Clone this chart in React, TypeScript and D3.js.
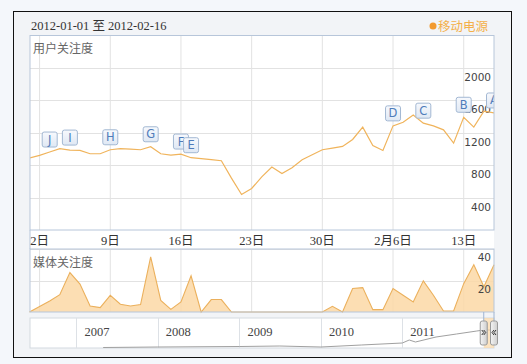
import * as d3 from "d3";

const startDate = "2012-01-01";
const endDate = "2012-02-16";

// 用户关注度, one value per day from 1 Jan to 16 Feb
const userAttention = [
  888, 921, 962, 1003, 986, 982, 941, 941, 990, 1003, 998, 990, 1027, 941, 925, 937,
  892, 880, 868, 855, 640, 438, 512, 655, 777, 696, 769, 868, 929, 990, 1011, 1031,
  1117, 1269, 1043, 982, 1285, 1330, 1420, 1318, 1285, 1236, 1072, 1391, 1269, 1465, 1444,
];

// 媒体关注度
const mediaAttention = [
  0, 3.5, 7, 11, 25, 17.7, 3.8, 2.8, 10.6, 4.9, 3.8, 4.7, 35, 7.4, 1.7, 6.4,
  23, 0, 7.9, 7.9, 0, 0, 0, 0, 0, 0, 0, 0, 0, 0, 3.6, 0,
  14.9, 15.5, 1.5, 1.5, 14.9, 10.6, 6.4, 19.8, 10.6, 0.6, 0.6, 18, 30, 16, 30,
];

const tickDates = ["2012-01-02", "2012-01-09", "2012-01-16", "2012-01-23", "2012-01-30", "2012-02-06", "2012-02-13"];
const tickLabels = ["2日", "9日", "16日", "23日", "30日", "2月6日", "13日"];
const userTicks = [400, 800, 1200, 1600, 2000];
const mediaTicks = [20, 40];

const flagLetters = ["J", "I", "H", "G", "F", "E", "D", "C", "B", "A"];
const flagDates = ["2012-01-03", "2012-01-05", "2012-01-09", "2012-01-13", "2012-01-16", "2012-01-17", "2012-02-06", "2012-02-09", "2012-02-13", "2012-02-16"];

// navigator (whole history)
const navStart = "2006-06-07";
const navDates = ["2007-05-01", "2008-01-01", "2009-01-01", "2009-07-01", "2010-01-01", "2010-07-01", "2011-01-01", "2011-02-01", "2011-03-01", "2011-06-01", "2011-09-01", "2011-12-01", "2012-01-01", "2012-02-16"];
const navValues = [40, 80, 120, 160, 80, 240, 400, 640, 480, 880, 1120, 1360, 1440, 1440];
const navYears = ["2007-01-01", "2008-01-01", "2009-01-01", "2010-01-01", "2011-01-01"];
const navYearLabels = ["2007", "2008", "2009", "2010", "2011"];

const parse = d3.timeParse("%Y-%m-%d");
const serif = "'Liberation Serif', 'Noto Sans CJK SC', serif";
const cjk = "'Noto Sans CJK SC', 'DejaVu Sans', sans-serif";

export default function App() {
  const W = 527, H = 364;
  const left = 30, right = 494;
  const t0 = parse(startDate)!, t1 = parse(endDate)!;
  const days = userAttention.map((_, i) => d3.timeDay.offset(t0, i));

  const x = d3.scaleTime().domain([t0, t1]).range([29.5, 494]);
  const yUser = d3.scaleLinear().domain([0, 2400]).range([230, 35.5]);
  const yMedia = d3.scaleLinear().domain([0, 40]).range([312, 249]);
  const xNav = d3.scaleTime().domain([parse(navStart)!, t1]).range([left, right]);
  const yNav = d3.scaleLinear().domain([0, 2400]).range([348, 318]);

  const userLine = d3.line<number>().x((_, i) => x(days[i])).y((v) => yUser(v));
  const mediaArea = d3.area<number>().x((_, i) => x(days[i])).y0(yMedia(0)).y1((v) => yMedia(v));
  const mediaLine = d3.line<number>().x((_, i) => x(days[i])).y((v) => yMedia(v));
  const navLine = d3.line<number>().x((_, i) => xNav(parse(navDates[i])!)).y((v) => yNav(v));

  const selL = xNav(t0), selR = xNav(t1);
  const grid = "#e2e2e2";
  const border = "#b7c6da";

  return (
    <svg width={W} height={H} style={{ position: "absolute", left: 0, top: 0 }}>
      <defs>
        <clipPath id="plotClip">
          <rect x={left} y={35.5} width={right - left} height={230 - 35.5} />
        </clipPath>
        <linearGradient id="flagGrad" x1="0" y1="0" x2="0" y2="1">
          <stop offset="0" stopColor="#f7f9fd" />
          <stop offset="1" stopColor="#dfe8f4" />
        </linearGradient>
        <linearGradient id="handleGrad" x1="0" y1="0" x2="1" y2="0">
          <stop offset="0" stopColor="#f4f4f4" />
          <stop offset="1" stopColor="#cfcfcf" />
        </linearGradient>
      </defs>
      <rect x={0} y={0} width={W} height={H} fill="#f4f7fb" />
      <rect x={13.5} y={11.5} width={498} height={346} fill="#f2f4f7" stroke="#111" />

      {/* header */}
      <text x={31} y={30} fontFamily={serif} fontSize={12.5} fill="#333">2012-01-01 至 2012-02-16</text>
      <circle cx={433} cy={26} r={3.5} fill="#f29a2e" />
      <text x={438} y={31} fontFamily={cjk} fontSize={12.5} fill="#f4b04a">移动电源</text>

      {/* white panel */}
      <rect x={left} y={35.5} width={right - left} height={312 - 35.5} fill="#fff" />

      {/* grid */}
      {tickDates.map((d) => (
        <g key={d}>
          <line x1={x(parse(d)!)} x2={x(parse(d)!)} y1={35.5} y2={230} stroke={grid} />
          <line x1={x(parse(d)!)} x2={x(parse(d)!)} y1={249} y2={312} stroke={grid} />
        </g>
      ))}
      {userTicks.map((v) => (
        <line key={v} x1={left} x2={right} y1={Math.round(yUser(v)) + 0.5} y2={Math.round(yUser(v)) + 0.5} stroke={grid} />
      ))}
      {mediaTicks.map((v) => (
        <line key={v} x1={left} x2={right} y1={Math.round(yMedia(v)) + 0.5} y2={Math.round(yMedia(v)) + 0.5} stroke={grid} />
      ))}

      {/* series */}
      <path d={mediaArea(mediaAttention) ?? ""} fill="#fbd8a6" fillOpacity={0.85} />
      <path d={mediaLine(mediaAttention) ?? ""} fill="none" stroke="#ebb05c" strokeWidth={1.1} />

      {/* y labels */}
      {userTicks.map((v) => (
        <text key={v} x={491} y={yUser(v) + 13} textAnchor="end" fontFamily="'DejaVu Sans', sans-serif" fontSize={10.5} fill="#444">{v}</text>
      ))}
      {mediaTicks.map((v) => (
        <text key={v} x={491} y={yMedia(v) + 12} textAnchor="end" fontFamily="'DejaVu Sans', sans-serif" fontSize={10.5} fill="#444">{v}</text>
      ))}

      <path d={userLine(userAttention) ?? ""} fill="none" stroke="#f0b45c" strokeWidth={1.2} clipPath="url(#plotClip)" />

      {/* flags */}
      <g clipPath="url(#plotClip)">
        {flagLetters.map((f, i) => {
          const d = parse(flagDates[i])!;
          const idx = d3.timeDay.count(t0, d);
          const fx = x(d);
          const fy = yUser(userAttention[idx]) - 5;
          return (
            <g key={f}>
              <rect x={fx - 7.5} y={fy - 15} width={15} height={15} rx={2} fill="url(#flagGrad)" stroke="#a3b8d3" />
              <text x={fx} y={fy - 3.5} textAnchor="middle" fontFamily="'DejaVu Sans', sans-serif" fontSize={11.5} fill="#4f7cba">{f}</text>
            </g>
          );
        })}
      </g>

      {/* borders */}
      <rect x={left} y={35.5} width={right - left} height={230 - 35.5} fill="none" stroke={border} />
      <rect x={left} y={249} width={right - left} height={312 - 249} fill="none" stroke={border} />
      <line x1={left} x2={left} y1={230} y2={249} stroke={border} />

      {/* x labels */}
      {tickDates.map((d, i) => (
        <text key={d} x={x(parse(d)!)} y={245} textAnchor="middle" fontFamily={serif} fontSize={12.5} fill="#333">{tickLabels[i]}</text>
      ))}

      {/* titles */}
      <text x={33} y={53} fontFamily={cjk} fontSize={12} fill="#666">用户关注度</text>
      <text x={33} y={267} fontFamily={cjk} fontSize={12} fill="#666">媒体关注度</text>

      {/* navigator */}
      <rect x={left} y={318} width={right - left} height={30} fill="#fff" stroke="#d3d9e0" />
      {navYears.map((d, i) => (
        <g key={d}>
          <line x1={Math.round(xNav(parse(d)!)) + 0.5} x2={Math.round(xNav(parse(d)!)) + 0.5} y1={318} y2={348} stroke="#dde1e6" />
          <text x={xNav(parse(d)!) + 8} y={336} fontFamily={serif} fontSize={12.5} fill="#444">{navYearLabels[i]}</text>
        </g>
      ))}
      <path d={navLine(navValues) ?? ""} fill="none" stroke="#a0a0a0" strokeWidth={1} />
      <rect x={selL} y={318} width={selR - selL} height={30} fill="#fbd8a6" fillOpacity={0.7} />
      <line x1={selL} x2={selL} y1={312} y2={321} stroke="#9fb4d2" />
      <line x1={selR} x2={selR} y1={312} y2={321} stroke="#9fb4d2" />
      {[selL, selR].map((hx, i) => (
        <g key={i}>
          <rect x={hx - 3.5} y={321} width={7} height={24} rx={2} fill="url(#handleGrad)" stroke="#9a9a9a" />
          <path
            d={i === 0 ? `M${hx - 2},330 l2,2.5 l-2,2.5 M${hx},330 l2,2.5 l-2,2.5` : `M${hx + 2},330 l-2,2.5 l2,2.5 M${hx},330 l-2,2.5 l2,2.5`}
            fill="none"
            stroke="#333"
            strokeWidth={1}
          />
        </g>
      ))}
    </svg>
  );
}
